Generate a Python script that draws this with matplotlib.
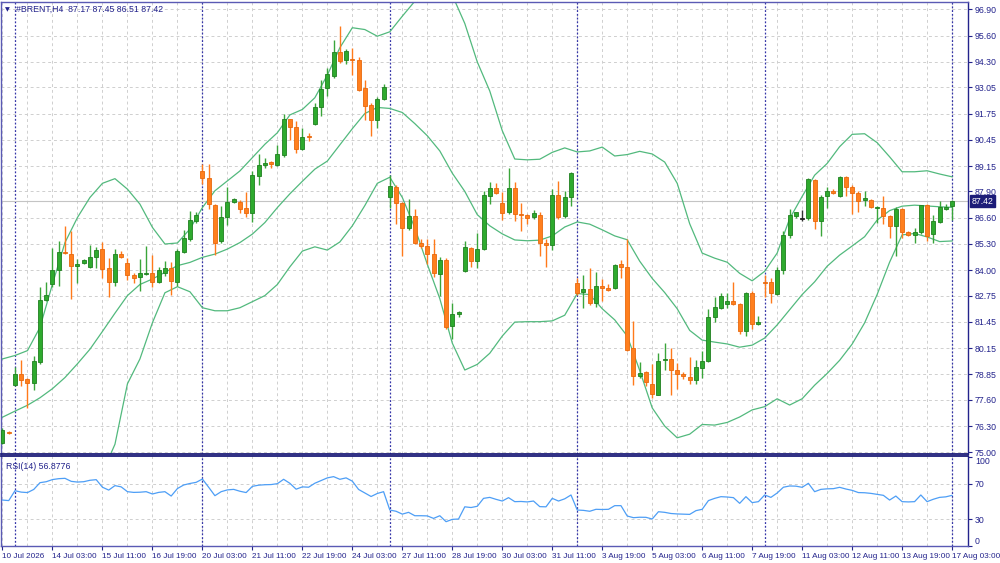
import matplotlib.pyplot as plt
from matplotlib.transforms import blended_transform_factory

plt.rcParams["font.family"] = ["Liberation Sans", "DejaVu Sans"]

# #BRENT H4 candles, bar 0 = 10 Jul 2026
opens = [75.46, 76.00, 78.34, 78.88, 78.64, 78.42, 79.45, 82.55, 83.32, 84.03,
         84.90, 84.80, 84.21, 84.34, 84.15, 84.64, 85.05, 84.11, 83.40, 84.80,
         84.36, 83.77, 83.65, 83.80, 83.85, 83.40, 83.87, 84.11, 83.44, 84.92,
         85.57, 86.45, 88.91, 88.58, 87.23, 85.43, 86.61, 87.40, 87.40, 87.07,
         86.84, 88.67, 89.19, 89.37, 89.21, 89.70, 91.46, 91.10, 90.01, 90.62,
         91.24, 92.09, 92.99, 93.60, 94.78, 94.39, 94.45, 94.37, 92.99, 92.15,
         91.43, 92.45, 87.63, 88.14, 87.35, 86.08, 86.69, 85.37, 85.21, 84.80,
         83.82, 84.52, 81.23, 81.82, 83.98, 85.09, 84.47, 85.05, 87.68, 88.06,
         87.32, 86.86, 88.09, 86.78, 86.73, 86.61, 86.74, 85.33, 85.25, 87.73,
         86.66, 87.60, 83.37, 82.91, 83.10, 82.37, 83.24, 83.12, 83.12, 84.31,
         84.14, 80.17, 78.76, 78.96, 78.39, 77.86, 79.55, 79.62, 79.05, 78.88,
         78.71, 78.60, 79.18, 79.50, 81.67, 82.12, 82.34, 82.47, 82.34, 81.02,
         82.90, 81.35, 83.44, 83.40, 82.83, 84.01, 85.74, 86.69, 86.56, 86.58,
         88.45, 86.44, 87.65, 87.93, 87.68, 88.62, 88.12, 87.80, 87.48, 87.48,
         87.07, 87.10, 86.69, 86.20, 87.05, 85.90, 85.75, 85.87, 87.22, 85.79,
         86.41, 87.05, 87.17]

highs = [76.20, 76.05, 79.24, 79.57, 78.70, 79.75, 83.19, 83.44, 85.08, 85.43,
         86.17, 85.95, 84.55, 84.55, 85.26, 85.13, 85.41, 84.60, 85.05, 84.97,
         84.60, 83.85, 84.55, 85.21, 84.77, 84.18, 84.47, 84.39, 85.05, 86.00,
         86.94, 86.86, 89.24, 89.24, 87.30, 87.19, 88.14, 87.56, 87.45, 87.85,
         88.91, 89.74, 89.55, 89.40, 90.19, 91.74, 91.50, 91.38, 91.05, 90.80,
         92.28, 93.40, 94.01, 95.36, 96.07, 94.95, 94.97, 94.55, 93.40, 92.25,
         92.55, 93.19, 88.71, 88.20, 87.40, 87.52, 87.02, 85.54, 85.54, 85.54,
         84.67, 84.60, 82.37, 82.00, 85.46, 85.15, 85.82, 87.93, 88.38, 88.30,
         87.85, 89.07, 88.37, 87.32, 86.80, 86.96, 86.90, 85.55, 88.01, 88.40,
         87.90, 88.85, 83.62, 83.77, 84.11, 83.93, 83.57, 83.30, 84.30, 84.52,
         85.54, 81.51, 79.49, 79.00, 79.37, 79.92, 80.41, 80.17, 79.40, 78.95,
         79.70, 79.55, 80.03, 82.09, 82.66, 82.90, 82.90, 83.40, 82.40, 82.95,
         82.99, 81.76, 83.78, 83.60, 84.14, 85.95, 87.05, 86.90, 86.99, 88.55,
         88.50, 87.70, 88.14, 88.00, 88.65, 88.65, 88.20, 87.93, 87.90, 87.52,
         87.20, 87.65, 86.75, 87.15, 87.10, 85.95, 86.09, 87.25, 87.28, 86.73,
         87.43, 87.30, 87.45]

lows = [75.40, 75.92, 78.30, 78.26, 77.19, 78.09, 79.37, 82.50, 83.19, 83.24,
        84.80, 82.58, 83.35, 84.30, 84.09, 84.09, 83.60, 82.66, 83.20, 84.62,
        83.52, 83.35, 82.96, 83.75, 83.16, 83.35, 83.73, 82.78, 83.24, 84.85,
        85.46, 86.36, 88.26, 87.05, 84.77, 85.37, 86.23, 87.35, 86.81, 86.61,
        86.40, 88.21, 89.04, 89.04, 89.15, 89.60, 90.42, 89.81, 89.93, 90.40,
        91.18, 91.63, 92.61, 93.50, 94.26, 94.20, 93.65, 92.85, 91.41, 90.64,
        91.02, 92.40, 87.10, 86.28, 84.72, 86.00, 85.30, 85.10, 84.31, 83.65,
        82.75, 81.10, 80.61, 81.70, 83.90, 84.14, 84.09, 85.00, 87.30, 87.75,
        86.49, 86.80, 86.45, 85.92, 86.30, 86.55, 84.72, 84.18, 85.00, 86.55,
        86.60, 87.19, 82.80, 82.14, 82.30, 82.17, 82.46, 83.00, 83.08, 83.62,
        80.00, 78.31, 78.70, 78.30, 77.70, 77.82, 79.05, 77.86, 78.11, 78.63,
        78.39, 78.40, 78.68, 79.45, 81.43, 82.10, 82.12, 82.30, 80.86, 80.74,
        81.10, 81.30, 82.70, 82.37, 82.80, 83.82, 85.62, 86.60, 86.44, 86.50,
        86.04, 85.71, 87.10, 87.75, 87.60, 87.68, 86.77, 86.86, 87.19, 87.10,
        86.36, 86.28, 85.59, 84.72, 85.59, 85.70, 85.33, 85.80, 85.46, 85.37,
        86.35, 87.00, 86.51]

closes = [76.12, 75.95, 78.88, 78.59, 78.42, 79.54, 82.55, 82.78, 84.03, 84.92,
          84.85, 84.19, 84.31, 84.51, 84.64, 85.01, 84.06, 83.40, 84.80, 84.67,
          83.77, 83.62, 83.85, 83.85, 83.40, 84.01, 84.11, 83.49, 84.97, 85.59,
          86.48, 86.73, 88.58, 87.27, 85.37, 86.61, 87.38, 87.51, 87.02, 86.84,
          88.70, 89.21, 89.32, 89.24, 89.73, 91.46, 91.10, 89.98, 90.60, 90.57,
          92.07, 92.94, 93.69, 94.78, 94.34, 94.83, 94.40, 92.91, 92.12, 91.43,
          92.48, 93.06, 88.17, 87.35, 86.08, 86.69, 85.34, 85.18, 84.80, 83.85,
          84.51, 81.18, 81.84, 81.96, 85.16, 84.47, 85.05, 87.73, 88.06, 87.80,
          86.83, 88.09, 86.78, 86.74, 86.58, 86.83, 85.33, 85.27, 87.73, 86.64,
          87.60, 88.80, 82.86, 83.07, 82.37, 83.24, 83.12, 83.02, 84.27, 84.14,
          80.07, 78.76, 78.93, 78.47, 77.90, 79.54, 79.60, 79.05, 78.88, 78.80,
          78.60, 79.24, 79.54, 81.71, 82.17, 82.71, 82.50, 82.34, 81.02, 82.90,
          81.36, 81.46, 83.38, 82.86, 84.01, 85.75, 86.74, 86.86, 86.56, 88.50,
          86.44, 87.63, 87.93, 87.80, 88.62, 88.12, 87.84, 87.43, 87.55, 87.15,
          87.14, 86.66, 86.20, 87.05, 85.87, 85.75, 85.87, 87.22, 85.70, 86.44,
          87.14, 87.12, 87.42]

# Bollinger bands read every 2 bars
band_x = list(range(0, 153, 2))
upper_band = [79.62, 79.79, 80.03, 81.18, 83.32, 85.37, 86.61, 87.60, 88.30, 88.53,
              88.01, 87.27, 86.12, 85.30, 85.35, 86.04, 87.10, 87.93, 88.42, 88.91,
              89.57, 90.23, 90.80, 91.68, 91.95, 92.53, 93.65, 95.00, 95.99, 95.90,
              95.57, 95.79, 96.56, 97.30, 97.90, 98.10, 97.60, 96.20, 94.30, 92.86,
              90.90, 89.50, 89.46, 89.49, 89.83, 90.05, 89.85, 89.90, 90.09, 89.65,
              89.72, 89.88, 89.75, 89.35, 88.30, 86.30, 84.85, 84.60, 84.40, 83.85,
              83.48, 83.95, 84.85, 86.55, 87.65, 88.70, 89.28, 90.11, 90.72, 90.75,
              90.31, 89.61, 88.87, 88.87, 88.92, 88.76, 88.62]
middle_band = [76.74, 77.04, 77.33, 77.70, 78.15, 78.70, 79.38, 80.10, 80.98, 81.88,
               82.75, 83.30, 83.57, 83.90, 84.23, 84.39, 84.64, 84.80, 85.05, 85.37,
               85.79, 86.36, 87.10, 87.78, 88.40, 89.00, 89.40, 90.20, 91.00, 91.75,
               92.05, 92.00, 91.80, 91.25, 90.65, 89.90, 88.80, 87.90, 86.75, 86.20,
               85.80, 85.50, 85.46, 85.49, 85.70, 86.14, 86.39, 86.28, 86.00, 85.70,
               85.51, 84.45, 83.60, 82.90, 82.10, 81.03, 80.55, 80.45, 80.36, 80.20,
               80.30, 80.65, 81.30, 82.05, 82.80, 83.43, 84.20, 84.75, 85.20, 85.66,
               86.48, 86.95, 87.17, 87.22, 87.18, 87.14, 87.11]
lower_x = list(range(16, 153, 2))
lower_band = [74.00, 75.40, 78.39, 79.62, 81.41, 82.89, 83.19, 82.94, 82.15, 82.00,
              82.00, 82.15, 82.45, 82.75, 83.30, 84.17, 84.95, 85.16, 85.00, 85.40,
              86.20, 87.20, 88.30, 88.60, 87.60, 86.10, 84.30, 82.60, 80.40, 79.07,
              79.35, 79.90, 80.75, 81.44, 81.46, 81.46, 81.50, 81.78, 82.85, 82.80,
              82.10, 81.55, 80.75, 79.05, 77.20, 76.30, 75.72, 75.90, 76.38, 76.35,
              76.48, 76.75, 77.10, 77.26, 77.65, 77.34, 77.65, 78.32, 78.90, 79.55,
              80.35, 81.40, 82.80, 84.40, 85.75, 85.82, 85.65, 85.42, 85.45]

rsi = [51.6, 51.0, 62.1, 60.5, 60.0, 63.5, 71.1, 72.2, 74.6, 75.6,
       76.0, 72.6, 71.8, 72.2, 73.8, 74.5, 66.0, 62.8, 67.8, 66.4,
       61.0, 60.2, 60.4, 61.0, 58.4, 60.2, 61.0, 56.1, 64.5, 68.5,
       70.2, 71.5, 75.2, 66.0, 56.5, 61.0, 63.0, 63.6, 61.5, 60.0,
       67.0, 68.3, 68.8, 69.0, 70.0, 74.9, 70.4, 63.8, 66.4, 66.0,
       70.5, 73.5, 76.5, 77.9, 74.9, 76.5, 72.8, 63.5, 59.5, 55.6,
       59.0, 61.0, 40.4, 39.0, 35.8, 37.8, 34.0, 34.0, 33.8, 31.0,
       34.0, 27.3, 29.9, 30.3, 44.0, 43.2, 44.6, 53.5, 54.6, 52.4,
       50.5, 54.3, 49.8, 50.0, 49.5, 50.5, 44.2, 44.0, 53.5, 50.5,
       53.0, 57.3, 40.4, 40.0, 39.0, 41.2, 41.0, 41.2, 45.3, 45.3,
       33.7, 31.8, 32.3, 32.2, 30.3, 38.5, 37.8, 36.5, 36.0, 35.8,
       35.5, 39.7, 41.2, 51.0, 53.5, 55.4, 55.0, 54.3, 47.9, 55.4,
       48.7, 49.8, 57.3, 54.6, 59.5, 66.0, 67.4, 67.2, 65.9, 70.4,
       61.0, 63.6, 64.2, 64.4, 65.9, 64.0, 62.5, 60.0, 59.8, 59.1,
       58.0, 56.9, 51.6, 56.1, 49.8, 49.5, 49.8, 57.3, 49.8, 52.5,
       54.6, 55.2, 56.9]

price_ticks = [75.00, 76.30, 77.60, 78.85, 80.15, 81.45, 82.75, 84.00, 85.30,
               86.60, 87.90, 89.15, 90.45, 91.75, 93.05, 94.30, 95.60, 96.90]
date_labels = ["10 Jul 2026", "14 Jul 03:00", "15 Jul 11:00", "16 Jul 19:00",
               "20 Jul 03:00", "21 Jul 11:00", "22 Jul 19:00", "24 Jul 03:00",
               "27 Jul 11:00", "28 Jul 19:00", "30 Jul 03:00", "31 Jul 11:00",
               "3 Aug 19:00", "5 Aug 03:00", "6 Aug 11:00", "7 Aug 19:00",
               "11 Aug 03:00", "12 Aug 11:00", "13 Aug 19:00", "17 Aug 03:00"]
week_starts = [2, 32, 62, 92, 122, 152]

NAVY = "#23238c"
SPINE = "#5a5ab4"
GRID = "#cfcfcf"
SEP = "#3535a8"
BAND = "#52b97d"

fig = plt.figure(figsize=(10, 5.63), dpi=100)
ax = fig.add_axes([0.001, 0.1936, 0.967, 0.8028])
ax_rsi = fig.add_axes([0.001, 0.0302, 0.967, 0.1599])

n = len(closes)
bars = list(range(n))
xlim = (-0.24, 154.55)

# grid and separators
for a in (ax, ax_rsi):
    for b in range(0, n, 4):
        a.axvline(b, color=GRID, lw=0.7, ls=(0, (3, 3)), zorder=0)
    for b in week_starts:
        a.axvline(b, color=SEP, lw=0.9, ls=(0, (1.5, 1.5)), zorder=1)
for p in price_ticks:
    ax.axhline(p, color=GRID, lw=0.7, ls=(0, (3, 3)), zorder=0)
ax.axhline(closes[-1], color="#c4c4c4", lw=0.8, zorder=1)

# bollinger bands
ax.plot(band_x, upper_band, color=BAND, lw=0.9, zorder=2)
ax.plot(band_x, middle_band, color=BAND, lw=0.9, zorder=2)
ax.plot(lower_x, lower_band, color=BAND, lw=0.9, zorder=2)

# candles
fills, edges, wicks, bottoms, heights = [], [], [], [], []
for o, c in zip(opens, closes):
    if c > o:
        fills.append("#2eaa2e"); edges.append("#1f7f1f"); wicks.append("#3aa53a")
    elif c < o:
        fills.append("#ff7f1e"); edges.append("#e8680c"); wicks.append("#ff7a1a")
    else:
        fills.append("#222222"); edges.append("#222222"); wicks.append("#333333")
    bottoms.append(min(o, c))
    heights.append(max(abs(c - o), 0.04))

ax.vlines(bars, lows, highs, colors=wicks, lw=1, zorder=3)
ax.bar(bars, heights, bottom=bottoms, width=0.64, color=fills,
       edgecolor=edges, linewidth=0.6, zorder=4)

ax.set_xlim(*xlim)
ax.set_ylim(74.92, 97.26)
ax.set_xticks([])
ax.yaxis.tick_right()
ax.set_yticks(price_ticks)
ax.set_yticklabels([f"{p:.2f}" for p in price_ticks])
ax.tick_params(axis="y", colors=NAVY, labelsize=6.3, length=3, width=0.8, pad=2)

# last price box
tr = blended_transform_factory(ax.transAxes, ax.transData)
ax.text(1.004, closes[-1], f"{closes[-1]:.2f}", transform=tr, color="white",
        fontsize=6.3, va="center", ha="left", zorder=6,
        bbox=dict(boxstyle="square,pad=0.2", fc="#1c1c78", ec="#1c1c78"))

# header
fig.text(0.005, 1 - 9.5 / 563, "\u25bc", fontsize=4.5, color=NAVY, va="center",
         family="DejaVu Sans")
fig.text(0.016, 1 - 9.5 / 563, "#BRENT,H4  87.17 87.45 86.51 87.42",
         fontsize=6.3, color=NAVY, va="center")

# RSI panel
ax_rsi.plot(bars, rsi, color="#4d9ef6", lw=0.9, zorder=3)
for lvl in (30, 70):
    ax_rsi.axhline(lvl, color=GRID, lw=0.7, ls=(0, (3, 3)), zorder=0)
ax_rsi.set_xlim(*xlim)
ax_rsi.set_ylim(0, 101.1)
ax_rsi.yaxis.tick_right()
ax_rsi.set_yticks([0, 30, 70, 100])
ax_rsi.set_yticklabels(["0", "30", "70", "100"])
ax_rsi.tick_params(axis="y", colors=NAVY, labelsize=6.3, length=3, width=0.8, pad=2)
ylabels = ax_rsi.get_yticklabels()
ylabels[0].set_va("bottom")
ylabels[-1].set_va("top")
ax_rsi.text(0.005, 0.93, "RSI(14) 56.8776", transform=ax_rsi.transAxes,
            fontsize=6.3, color=NAVY, va="top", ha="left")

ax_rsi.set_xticks(list(range(0, n, 8)))
ax_rsi.set_xticklabels(date_labels)
ax_rsi.tick_params(axis="x", colors=NAVY, labelsize=5.9, length=3, width=0.8, pad=2)
for lab in ax_rsi.get_xticklabels():
    lab.set_ha("left")

for a in (ax, ax_rsi):
    for s in a.spines.values():
        s.set_color(SPINE)
        s.set_linewidth(1)
ax.spines["bottom"].set_color("#1c1c78")
ax.spines["bottom"].set_linewidth(1.3)
ax_rsi.spines["top"].set_color("#1c1c78")
ax_rsi.spines["top"].set_linewidth(1.3)
ax.spines["right"].set_color(NAVY)
ax_rsi.spines["right"].set_color(NAVY)

fig.savefig("out.png", dpi=100, facecolor="white")
